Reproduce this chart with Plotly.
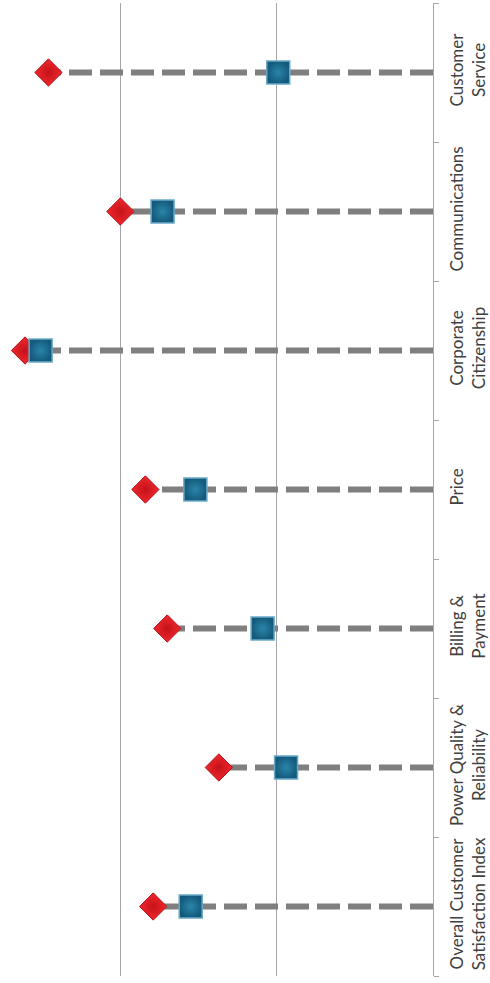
import plotly.graph_objects as go

# Satisfaction drivers, bottom to top
categories = [
    "Overall Customer<br>Satisfaction Index",
    "Power Quality &<br>Reliability",
    "Billing &<br>Payment",
    "Price",
    "Corporate<br>Citizenship",
    "Communications",
    "Customer<br>Service",
]
best_scores = [679, 637, 670, 684, 761, 700, 746]      # red diamonds
company_scores = [655, 594, 609, 652, 751, 673, 599]   # blue squares

axis_base = 500
axis_top = 777
grid_values = [600, 700]

fig = go.Figure()

# dashed drop lines from the baseline out to the leading score
for cat, best, comp in zip(categories, best_scores, company_scores):
    fig.add_trace(go.Scatter(
        x=[axis_base, max(best, comp)], y=[cat, cat],
        mode="lines",
        line=dict(color="#7f7f7f", width=6, dash="23px,8px"),
        hoverinfo="skip", showlegend=False,
    ))

fig.add_trace(go.Scatter(
    x=best_scores, y=categories, mode="markers", name="Best",
    marker=dict(symbol="diamond", size=21, color="#f0282e",
                gradient=dict(type="radial", color="#c4121a"),
                line=dict(color="#b3141b", width=1)),
    showlegend=False, cliponaxis=False,
))
fig.add_trace(go.Scatter(
    x=company_scores, y=categories, mode="markers", name="Company",
    marker=dict(symbol="square", size=23, color="#145a7c",
                gradient=dict(type="radial", color="#2a85a9"),
                line=dict(color="#6aaac6", width=1.5)),
    showlegend=False, cliponaxis=False,
))

fig.update_layout(
    width=490, height=983,
    margin=dict(l=0, r=57, t=3, b=7),
    paper_bgcolor="white", plot_bgcolor="white",
    font=dict(family="Lato, Liberation Sans, sans-serif", size=17, color="#404040"),
    xaxis=dict(
        range=[axis_top, axis_base],
        tickvals=grid_values, showticklabels=False, ticks="",
        showgrid=True, gridcolor="#a6a6a6", gridwidth=1,
        zeroline=False, showline=False,
    ),
    yaxis=dict(
        type="category", categoryorder="array", categoryarray=categories,
        range=[-0.5, 6.5], automargin=False,
        side="right", tickangle=-90,
        showline=True, linecolor="#a6a6a6", linewidth=1,
        ticks="outside", tickson="boundaries", ticklen=5, tickcolor="#a6a6a6",
        showgrid=False, zeroline=False, ticklabelstandoff=9,
    ),
)

fig.write_html("out.html")
